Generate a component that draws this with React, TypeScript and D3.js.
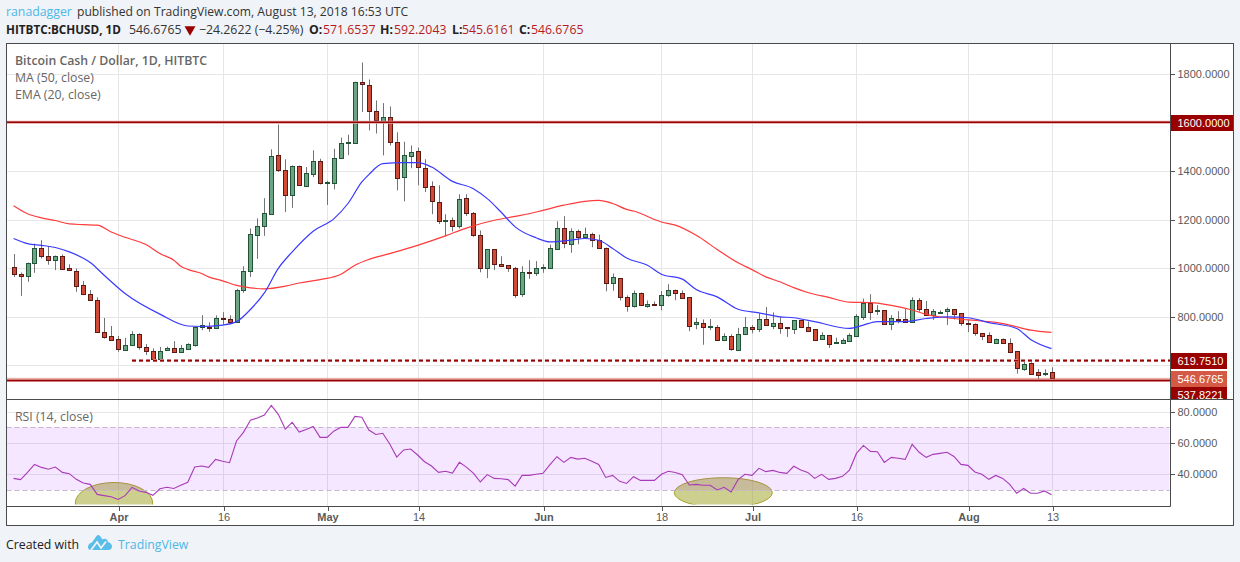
import * as d3 from "d3";
import React, { useEffect, useRef } from "react";

// daily candles, 2018-03-17 to 2018-08-13
const startDay = new Date(Date.UTC(2018, 2, 17));
const opens = [
  1003, 978, 969, 1023, 1085, 1052, 1034, 1052, 999, 990, 929, 892, 871, 736, 719, 707, 665, 682, 728, 674,
  661, 628, 662, 670, 656, 669, 682, 760, 760, 752, 797, 789, 780, 912, 990, 1138, 1175, 1223, 1467, 1405,
  1303, 1422, 1340, 1389, 1442, 1352, 1352, 1455, 1515, 1516, 1767, 1754, 1648, 1602, 1623, 1520, 1376, 1461, 1483, 1413,
  1340, 1274, 1197, 1200, 1175, 1290, 1229, 1138, 999, 1077, 1019, 1011, 999, 892, 986, 982, 999, 1001, 1079, 1167,
  1101, 1151, 1130, 1142, 1114, 1085, 940, 958, 880, 845, 896, 845, 851, 849, 890, 912, 896, 880, 769, 775,
  759, 760, 706, 719, 665, 728, 760, 748, 789, 763, 773, 756, 748, 785, 760, 748, 710, 724, 693, 693,
  702, 722, 800, 855, 825, 826, 769, 791, 789, 780, 871, 830, 806, 815, 822, 830, 814, 773, 769, 732,
  724, 693, 707, 691, 658, 587, 609, 572, 566, 571.6537,
];
const highs = [
  1058, 982, 1023, 1101, 1115, 1090, 1052, 1056, 1016, 999, 947, 910, 880, 795, 762, 721, 713, 741, 732, 688,
  670, 676, 677, 700, 684, 691, 760, 807, 777, 806, 819, 806, 915, 1008, 1163, 1205, 1288, 1489, 1591, 1448,
  1423, 1422, 1416, 1485, 1450, 1359, 1491, 1537, 1549, 1767, 1846, 1776, 1690, 1679, 1665, 1559, 1520, 1505, 1496, 1448,
  1357, 1341, 1222, 1208, 1304, 1304, 1231, 1155, 1077, 1077, 1049, 1012, 1005, 1008, 1033, 1029, 1016, 1097, 1193, 1214,
  1164, 1159, 1167, 1146, 1138, 1085, 978, 958, 888, 908, 900, 867, 863, 906, 934, 912, 908, 880, 795, 789,
  791, 766, 732, 728, 754, 799, 766, 814, 840, 818, 800, 756, 785, 789, 780, 748, 736, 724, 714, 711,
  732, 811, 875, 893, 848, 826, 807, 823, 834, 880, 877, 865, 832, 826, 838, 830, 814, 787, 773, 732,
  736, 711, 711, 711, 658, 622, 613, 585, 584, 592.2043,
];
const lows = [
  964, 886, 944, 981, 1040, 1014, 992, 997, 989, 903, 889, 866, 734, 710, 704, 656, 665, 681, 665, 643,
  626, 628, 660, 655, 652, 663, 677, 745, 738, 751, 767, 777, 780, 899, 964, 1038, 1133, 1223, 1396, 1231,
  1248, 1341, 1338, 1375, 1344, 1260, 1324, 1453, 1465, 1516, 1642, 1567, 1554, 1464, 1505, 1320, 1275, 1411, 1341, 1313,
  1222, 1182, 1131, 1151, 1163, 1215, 1129, 983, 959, 992, 1005, 985, 878, 882, 956, 968, 981, 997, 1075, 1082,
  1063, 1098, 1122, 1086, 1083, 905, 907, 867, 821, 838, 847, 837, 848, 827, 882, 868, 873, 741, 749, 685,
  745, 704, 700, 660, 662, 725, 732, 737, 763, 749, 730, 717, 729, 758, 741, 704, 708, 672, 692, 689,
  700, 717, 787, 787, 808, 767, 745, 773, 776, 776, 821, 804, 787, 814, 766, 789, 763, 737, 722, 704,
  693, 689, 688, 650, 566, 578, 561, 544, 556, 545.6161,
];
const closes = [
  977, 969, 1023, 1085, 1051, 1034, 1052, 997, 993, 927, 892, 870, 736, 718, 706, 666, 682, 728, 674, 661,
  628, 661, 670, 656, 670, 687, 760, 765, 752, 797, 789, 780, 912, 990, 1142, 1175, 1225, 1463, 1405, 1303,
  1422, 1344, 1393, 1442, 1352, 1356, 1455, 1516, 1518, 1767, 1758, 1648, 1611, 1623, 1520, 1372, 1467, 1479, 1418, 1335,
  1278, 1196, 1200, 1175, 1286, 1229, 1138, 999, 1077, 1019, 1010, 999, 888, 986, 982, 999, 1003, 1081, 1167, 1105,
  1151, 1130, 1142, 1114, 1085, 937, 962, 880, 845, 896, 849, 851, 849, 888, 912, 896, 878, 763, 777, 759,
  762, 706, 719, 669, 728, 760, 748, 789, 765, 773, 755, 752, 785, 759, 743, 706, 724, 689, 696, 703,
  724, 802, 855, 821, 828, 769, 793, 788, 780, 867, 830, 806, 822, 821, 830, 813, 773, 769, 732, 722,
  695, 707, 691, 656, 588, 604, 566, 562, 570, 546.6765,
];

// moving averages: candle number, value
const maDays = [0, 2, 4, 6, 8, 10, 12, 14, 16, 19, 21, 23, 24, 25, 27, 28, 30, 32, 34, 36, 39, 41, 44, 47, 49, 51, 54, 58, 62, 65, 69, 72, 74, 76, 79, 82, 84, 86, 88, 89, 93, 95, 98, 101, 104, 106, 108, 110, 112, 114, 117, 120, 123, 126, 129, 131, 134, 137, 141, 143, 146, 149];
const maValues = [1257, 1224, 1207, 1196, 1182, 1179, 1177, 1149, 1127, 1097, 1060, 1033, 1008, 995, 978, 964, 948, 929, 919, 915, 926, 939, 953, 975, 1012, 1036, 1060, 1094, 1133, 1165, 1197, 1213, 1224, 1238, 1259, 1275, 1279, 1266, 1242, 1235, 1190, 1177, 1135, 1077, 1022, 994, 964, 944, 920, 900, 880, 860, 858, 847, 828, 810, 796, 787, 777, 766, 745, 736];
const emaDays = [0, 2, 4, 6, 8, 11, 13, 16, 21, 25, 27, 30, 32, 34, 36, 38, 40, 43, 46, 48, 50, 51, 53, 56, 58, 60, 63, 66, 68, 70, 72, 75, 77, 80, 82, 84, 86, 88, 91, 93, 96, 98, 101, 104, 107, 110, 112, 115, 120, 122, 124, 128, 131, 134, 137, 140, 144, 146, 149];
const emaValues = [1122, 1101, 1094, 1085, 1067, 1023, 971, 896, 811, 762, 760, 766, 780, 830, 898, 999, 1067, 1152, 1204, 1266, 1355, 1385, 1430, 1434, 1434, 1416, 1357, 1327, 1286, 1230, 1170, 1125, 1108, 1115, 1122, 1115, 1081, 1042, 1012, 975, 955, 912, 882, 831, 816, 800, 796, 780, 752, 766, 780, 780, 793, 800, 796, 776, 752, 707, 669];
const rsi = [
  37.4, 36.6, 41.2, 46.3, 44.4, 43.2, 44.6, 41.2, 40.4, 36.8, 34.5, 33.6, 27.2, 26.4, 25.7, 24, 26.4, 31.7, 29.4, 28.5,
  26.6, 30.8, 31.7, 31, 33, 34.9, 44.6, 45.3, 44.4, 49.5, 48.3, 47.4, 61.2, 66.7, 74.4, 75.9, 77.8, 83.9, 78.2, 68.8,
  73.1, 66.9, 68.6, 70.5, 63.5, 63.5, 67.6, 69.9, 69.9, 76.9, 76.3, 68.2, 65.4, 66.1, 59.3, 51, 55.5, 56.1, 52.3, 48,
  45.3, 41.2, 41.9, 40.8, 47.6, 44.6, 40.8, 35.1, 39.8, 37.4, 37.2, 36.6, 32.5, 39.3, 39.3, 40, 40.6, 46.1, 51.2, 47.6,
  50.8, 49.7, 50.2, 48.3, 46.3, 38, 39.3, 35.5, 34.2, 38.5, 36.1, 36.1, 36.1, 40, 41.9, 41.2, 39.8, 33.2, 33.6, 33,
  33, 30, 31.7, 28.7, 36.6, 40, 39.3, 43.8, 41.7, 42.5, 41.2, 40.6, 45.1, 42.7, 41.2, 37.4, 40, 36.8, 37.4, 38.7,
  42.7, 53.3, 58.4, 54.6, 54.4, 47.6, 50.8, 50.2, 49.5, 59.1, 54, 50.8, 52.7, 53.3, 54, 51.4, 46.3, 45.7, 41.5, 40,
  36.8, 39.3, 37.4, 33.6, 27.9, 31, 27.9, 27.9, 29.4, 27,
];

const priceTicks = [600, 800, 1000, 1200, 1400, 1600, 1800];
const rsiTicks = [40, 60, 80];
const timeTicks = [15, 30, 45, 58, 76, 93, 106, 121, 137, 149];
const timeLabels = ["Apr", "16", "May", "14", "Jun", "18", "Jul", "16", "Aug", "13"];
const boldLabels = ["Apr", "May", "Jun", "Jul", "Aug"];

const resistance = 1600;
const lastPrice = 546.6765;
const support = 537.8221;
const dashedLevel = 619.751;
const dashedFromDay = 17;

const UI_FONT = "'Open Sans', sans-serif";
const UI_SIZE = 12.3;
const AXIS_FONT = "'Liberation Sans', Arial, sans-serif";
const AXIS_SIZE = 11;
const DARK_RED = "#990000";

function drawChart(node: SVGSVGElement) {
  const svg = d3.select(node);
  svg.selectAll("*").remove();

  const left = 6.5, right = 1170.5, top = 43.5, split = 399.5, bottom = 506.5;

  const dayDate = (i: number) => d3.utcDay.offset(startDay, i);
  const x = d3.scaleUtc().domain([dayDate(0), dayDate(149)]).range([13.6, 1051.5]);
  const xi = (i: number) => Math.round(x(dayDate(i)));
  const y = d3.scaleLinear().domain([600, 1800]).range([365.4, 73.7]);
  const yr = d3.scaleLinear().domain([40, 80]).range([474.3, 411.5]);

  // page + chart frame
  svg.append("rect").attr("width", 1240).attr("height", 562).attr("fill", "#f0f3f7");
  svg.append("rect").attr("x", left).attr("y", top).attr("width", 1233 - left).attr("height", 525 - top).attr("fill", "#fff");

  const defs = svg.append("defs");
  defs.append("clipPath").attr("id", "pricePane").append("rect").attr("x", left).attr("y", top).attr("width", right - left).attr("height", split - top);
  defs.append("clipPath").attr("id", "tagPane").append("rect").attr("x", right).attr("y", top).attr("width", 63).attr("height", split - top);
  defs.append("clipPath").attr("id", "rsiPane").append("rect").attr("x", left).attr("y", split).attr("width", right - left).attr("height", 105);

  // grid
  const grid = svg.append("g").attr("stroke", "#e6e6e6").attr("stroke-width", 1);
  timeTicks.forEach(t => {
    grid.append("line").attr("x1", xi(t) + 0.5).attr("x2", xi(t) + 0.5).attr("y1", top).attr("y2", bottom);
  });
  priceTicks.forEach(t => {
    const py = Math.round(y(t)) + 0.5;
    grid.append("line").attr("x1", left).attr("x2", right).attr("y1", py).attr("y2", py);
  });
  rsiTicks.forEach(t => {
    const py = Math.round(yr(t)) + 0.5;
    grid.append("line").attr("x1", left).attr("x2", right).attr("y1", py).attr("y2", py);
  });

  // hand drawn ellipses on the RSI pane, under its band
  const marks = svg.append("g").attr("clip-path", "url(#rsiPane)");
  marks.append("ellipse").attr("cx", 114).attr("cy", 503).attr("rx", 38.7).attr("ry", 20.5);
  marks.append("ellipse").attr("cx", 723.3).attr("cy", 492.7).attr("rx", 49).attr("ry", 15);
  marks.selectAll("ellipse").attr("fill", "rgba(155,160,30,0.5)").attr("stroke", "#a8a02c").attr("stroke-width", 1);

  // RSI band
  svg.append("rect").attr("x", left).attr("y", yr(70)).attr("width", right - left - 1).attr("height", yr(30) - yr(70)).attr("fill", "rgba(153,21,255,0.1)");
  [70, 30].forEach(v => {
    svg.append("line").attr("x1", left).attr("x2", right - 1).attr("y1", Math.round(yr(v)) + 0.5).attr("y2", Math.round(yr(v)) + 0.5)
      .attr("stroke", "#c4b6cf").attr("stroke-dasharray", "5,3");
  });

  // RSI line
  const rsiLine = d3.line<number>().x((_, i) => x(dayDate(i))).y(d => yr(d));
  svg.append("path").attr("d", rsiLine(rsi)).attr("fill", "none").attr("stroke", "#a93ab8").attr("stroke-width", 1.1);

  // price pane
  const pane = svg.append("g").attr("clip-path", "url(#pricePane)");

  const candles = pane.append("g");
  opens.forEach((open, i) => {
    const close = closes[i];
    const up = close >= open;
    const cx = xi(i);
    const t = Math.round(y(Math.max(open, close)));
    const b = Math.round(y(Math.min(open, close)));
    candles.append("line").attr("x1", cx + 0.5).attr("x2", cx + 0.5).attr("y1", y(highs[i])).attr("y2", y(lows[i])).attr("stroke", "#737375");
    candles.append("rect").attr("x", cx - 1.5).attr("y", t + 0.5).attr("width", 4).attr("height", Math.max(b - t, 1))
      .attr("fill", up ? "#6ba583" : "#d04a35").attr("stroke", up ? "#225437" : "#5b1a13");
  });

  const avgLine = (days: number[]) => d3.line<number>().x((_, i) => x(dayDate(days[i]))).y(d => y(d)).curve(d3.curveMonotoneX);
  pane.append("path").attr("d", avgLine(maDays)(maValues)).attr("fill", "none").attr("stroke", "#ff3b3b").attr("stroke-width", 1.2);
  pane.append("path").attr("d", avgLine(emaDays)(emaValues)).attr("fill", "none").attr("stroke", "#3a3aff").attr("stroke-width", 1.2);

  // horizontal levels
  const level = (v: number, from: number, color: string, w: number, dash?: string) =>
    pane.append("line").attr("x1", from).attr("x2", right).attr("y1", y(v)).attr("y2", y(v))
      .attr("stroke", color).attr("stroke-width", w).attr("stroke-dasharray", dash ?? null);
  level(resistance, left, "#e2a5a5", 3);
  level(resistance, left, DARK_RED, 1.6);
  level(dashedLevel, x(dayDate(dashedFromDay)), "#e2a5a5", 3, "4,3");
  level(dashedLevel, x(dayDate(dashedFromDay)), DARK_RED, 1.6, "4,3");
  level(support, left, "#e2a5a5", 3);
  level(support, left, DARK_RED, 1.6);
  level(lastPrice, left, "#d04a35", 1, "1,1");

  // axes
  const priceAxis = d3.axisRight(y).tickValues(priceTicks).tickFormat(d3.format(".4f")).tickSize(4).tickPadding(3);
  const priceG = svg.append("g").attr("transform", `translate(${right},0)`).call(priceAxis);
  const rsiAxis = d3.axisRight(yr).tickValues(rsiTicks).tickFormat(d3.format(".4f")).tickSize(4).tickPadding(3);
  const rsiG = svg.append("g").attr("transform", `translate(${right},0)`).call(rsiAxis);
  const timeScale = d3.scaleOrdinal<string, number>().domain(timeLabels.map((l, i) => l + i)).range(timeTicks.map(t => xi(t) + 0.5));
  const timeAxis = d3.axisBottom(timeScale as any).tickFormat((d: any) => d.replace(/\d$/, "")).tickSize(4).tickPadding(3);
  const timeG = svg.append("g").attr("transform", `translate(0,${bottom})`).call(timeAxis);
  [priceG, rsiG, timeG].forEach(g => {
    g.select(".domain").remove();
    g.selectAll("line").attr("stroke", "#555").attr("shape-rendering", "crispEdges");
    g.selectAll("text").attr("fill", "#5a5a5a").attr("font-family", AXIS_FONT).attr("font-size", AXIS_SIZE);
  });
  timeG.selectAll("text").attr("font-weight", (d: any) => boldLabels.includes(d.replace(/\d$/, "")) ? "bold" : "normal");

  // price tags; the last two are pushed apart the way the platform does it
  const tags = svg.append("g").attr("clip-path", "url(#tagPane)");
  const tag = (v: number, cy: number, fill: string) => {
    const label = d3.format(".4f")(v);
    tags.append("rect").attr("x", right).attr("y", cy - 8).attr("width", label.length > 8 ? 63 : 56.5).attr("height", 16).attr("fill", fill);
    tags.append("text").attr("x", right + 7).attr("y", cy + 4).attr("fill", "#fff").attr("font-family", AXIS_FONT).attr("font-size", AXIS_SIZE).text(label);
  };
  tag(resistance, 123, DARK_RED);
  tag(dashedLevel, 361, DARK_RED);
  tag(lastPrice, 379, "#d45a45");
  tag(support, 395, DARK_RED);

  // frame lines
  const frame = svg.append("g").attr("fill", "none").attr("stroke", "#4a4a4a");
  frame.append("rect").attr("x", left).attr("y", top).attr("width", 1233.5 - left).attr("height", 525.5 - top);
  frame.append("line").attr("x1", left).attr("x2", right).attr("y1", split).attr("y2", split);
  frame.append("line").attr("x1", left).attr("x2", right).attr("y1", bottom).attr("y2", bottom);
  frame.append("line").attr("x1", right).attr("x2", right).attr("y1", top).attr("y2", bottom);
  frame.append("line").attr("x1", right).attr("x2", 1233).attr("y1", split).attr("y2", split);

  // pane legends
  const legend = svg.append("g").attr("font-family", UI_FONT).attr("font-size", UI_SIZE).attr("fill", "#666");
  legend.append("text").attr("x", 15).attr("y", 65).attr("font-weight", 600).text("Bitcoin Cash / Dollar, 1D, HITBTC");
  legend.append("text").attr("x", 15).attr("y", 82).text("MA (50, close)");
  legend.append("text").attr("x", 15).attr("y", 99).text("EMA (20, close)");
  legend.append("text").attr("x", 15).attr("y", 421).text("RSI (14, close)");

  // header
  const headText = (px: number, py: number, text: string, fill: string, weight = 400) =>
    svg.append("text").attr("x", px).attr("y", py).attr("font-family", UI_FONT).attr("font-size", UI_SIZE)
      .attr("font-weight", weight).attr("fill", fill).text(text);
  headText(6, 16, "ranadagger", "#4db8e8");
  headText(77, 16, "published on TradingView.com, August 13, 2018 16:53 UTC", "#333").attr("font-size", 12.15);
  headText(6, 34, "HITBTC:BCHUSD, 1D", "#222", 700).attr("font-size", 11.7);
  headText(129, 34, "546.6765", "#333");
  svg.append("path").attr("d", d3.symbol(d3.symbolTriangle, 52)()).attr("transform", "translate(190,29.5) rotate(180)").attr("fill", DARK_RED);
  headText(199, 34, "−24.2622 (−4.25%)", "#333");
  headText(309, 34, "O:", "#222", 700);
  headText(323, 34, "571.6537", "#b71c1c");
  headText(380, 34, "H:", "#222", 700);
  headText(394, 34, "592.2043", "#b71c1c");
  headText(452, 34, "L:", "#222", 700);
  headText(462, 34, "545.6161", "#b71c1c");
  headText(519, 34, "C:", "#222", 700);
  headText(531, 34, "546.6765", "#b71c1c");

  // footer
  headText(6, 549, "Created with", "#222");
  const logo = svg.append("g").attr("transform", "translate(88,535)");
  logo.append("path").attr("d", "M0,12 C0,9.5 2,8 4,7.5 L8.5,1 C9.5,-0.3 11,-0.3 12,1 L14.5,4.5 C16.5,3 19.5,4 20,7 C22.5,7.5 24,9.5 24,11.5 C24,14 22,15 20,15 L3,15 C1,15 0,14 0,12 Z").attr("fill", "#58bde8");
  logo.append("path").attr("d", "M3,15 L9,7 L13,13 L18,6.5").attr("fill", "none").attr("stroke", "#f0f3f7").attr("stroke-width", 1.8);
  headText(118, 549, "TradingView", "#4db8e8");
}

export default function App() {
  const ref = useRef<SVGSVGElement>(null);
  useEffect(() => {
    if (ref.current) drawChart(ref.current);
  }, []);
  return <svg ref={ref} width={1240} height={562} style={{ position: "absolute", left: 0, top: 0 }} />;
}
